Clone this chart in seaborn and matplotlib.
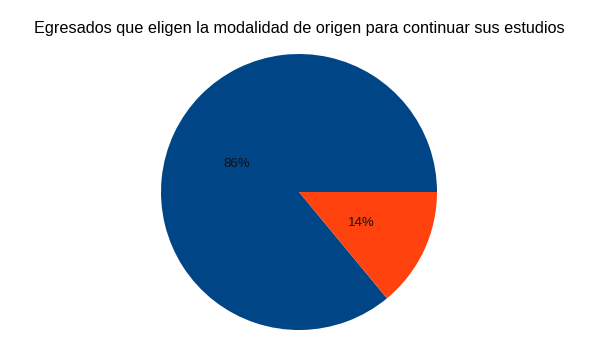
import matplotlib
matplotlib.use("Agg")
import matplotlib.pyplot as plt
import seaborn as sns

# Share of graduates by choice of study modality
categories = ["Misma modalidad", "Otra modalidad"]
values = [86, 14]
colors = ["#004586", "#ff420e"]

sns.set_style("white")
plt.rcParams["font.family"] = ["Liberation Sans", "DejaVu Sans"]

fig = plt.figure(figsize=(5.98, 3.37), dpi=100)
fig.patch.set_facecolor("white")

W, H = 598, 337
cx, cy, r = 299, 192, 138
ax = fig.add_axes([(cx - r) / W, (H - cy - r) / H, 2 * r / W, 2 * r / H])

palette = sns.color_palette(colors)
_, _, autotexts = ax.pie(values, labels=None, colors=palette, startangle=0,
                         counterclock=True, autopct="%1.0f%%", pctdistance=0.5,
                         textprops={"fontsize": 9.5, "color": "#111111"},
                         wedgeprops={"linewidth": 0})
for t in autotexts:
    t.set_va("center_baseline")
ax.set_aspect("equal")
ax.set_xlim(-1, 1)
ax.set_ylim(-1, 1)

fig.text(0.5, 1 - 28 / H, "Egresados que eligen la modalidad de origen para continuar sus estudios",
         ha="center", va="center", fontsize=11.7, color="black")

fig.savefig("out.png", dpi=100, facecolor="white")
